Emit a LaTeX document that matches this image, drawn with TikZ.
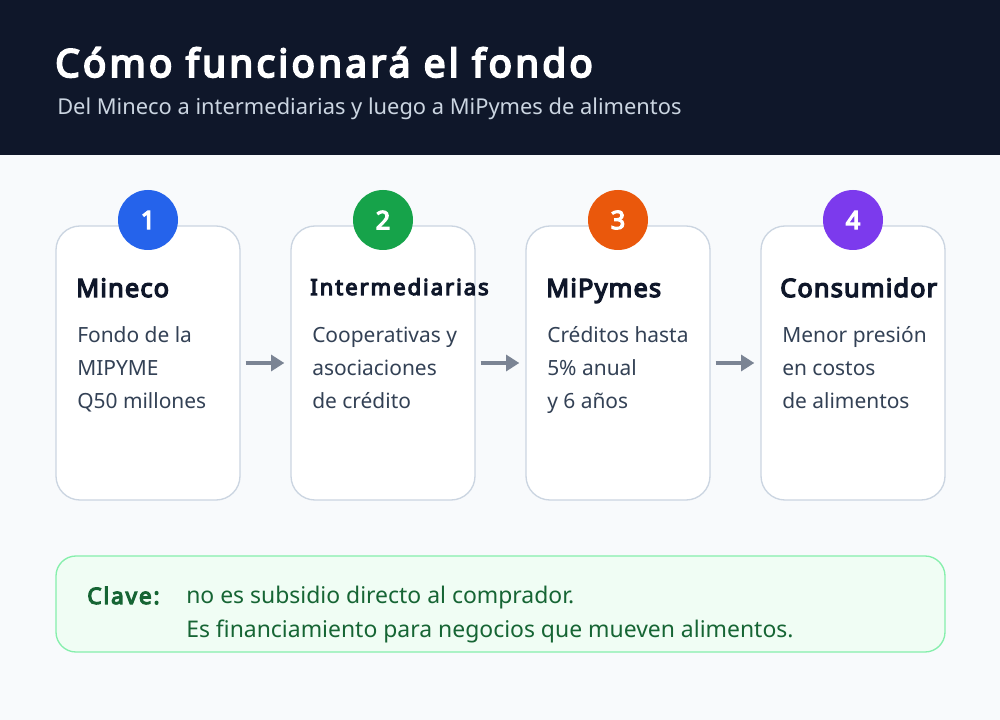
\documentclass[tikz,border=0pt]{standalone}
\usepackage{fontspec}
\setmainfont{Noto Sans}[BoldFont={Noto Sans}, BoldFeatures={FakeBold=5}]
\usetikzlibrary{arrows.meta}
\definecolor{hdr}{HTML}{0F172A}
\definecolor{bg}{HTML}{F8FAFC}
\definecolor{sub}{HTML}{CBD5E1}
\definecolor{cardline}{HTML}{CBD5E1}
\definecolor{ttl}{HTML}{0F172A}
\definecolor{body}{HTML}{334155}
\definecolor{c1}{HTML}{2563EB}
\definecolor{c2}{HTML}{16A34A}
\definecolor{c3}{HTML}{EA580C}
\definecolor{c4}{HTML}{7C3AED}
\definecolor{arr}{HTML}{7B8494}
\definecolor{keyfill}{HTML}{F0FDF4}
\definecolor{keyline}{HTML}{86EFAC}
\definecolor{keytext}{HTML}{166534}
\tikzset{
  card/.style={draw=cardline, line width=1pt, fill=white, rounded corners=18pt,
    minimum width=138pt, minimum height=205.5pt, inner sep=0pt},
  badge/.style={circle, minimum size=45pt, inner sep=0pt, text=white,
    font=\fontsize{19}{22}\bfseries\addfontfeatures{LetterSpace=3}},
  cardtitle/.style={anchor=base west, inner sep=0pt, text=ttl,
    font=\fontsize{19}{22}\bfseries\addfontfeatures{LetterSpace=4.6}},
  bodyline/.style={anchor=base west, inner sep=0pt, text=body,
    font=\fontsize{15.7}{18}\selectfont},
  flow/.style={draw=arr, line width=3pt, -{Triangle[length=10pt,width=12pt]}},
  keytxt/.style={anchor=base west, inner sep=0pt, text=keytext,
    font=\fontsize{17.2}{20}\selectfont},
}
\begin{document}
\begin{tikzpicture}[x=0.75pt,y=-0.75pt]
\useasboundingbox (0,0) rectangle (1000,720);
\fill[bg] (0,0) rectangle (1000,720);
\fill[hdr] (0,0) rectangle (1000,155);
\node[anchor=base west, inner sep=0pt, text=white, font=\fontsize{29}{34}\bfseries\addfontfeatures{LetterSpace=8.4}] (title) at (55,77) {Cómo funcionará el fondo};
\node[anchor=base west, inner sep=0pt, text=sub, font=\fontsize{16.4}{20}\selectfont] (subtitle) at (57,115) {Del Mineco a intermediarias y luego a MiPymes de alimentos};

% cards
\node[card] (card1) at (148,363) {};
\node[card] (card2) at (383,363) {};
\node[card] (card3) at (618,363) {};
\node[card] (card4) at (853,363) {};

\node[badge, fill=c1] (b1) at (148,220) {1};
\node[badge, fill=c2] (b2) at (383,220) {2};
\node[badge, fill=c3] (b3) at (618,220) {3};
\node[badge, fill=c4] (b4) at (853,220) {4};

\node[cardtitle] (t1) at (76,297) {Mineco};
\node[cardtitle, font=\fontsize{16.5}{20}\bfseries\addfontfeatures{LetterSpace=9}] (t2) at (310,295) {Intermediarias};
\node[cardtitle] (t3) at (546,297) {MiPymes};
\node[cardtitle] (t4) at (780,297) {Consumidor};

\node[bodyline] (l11) at (77,343) {Fondo de la};
\node[bodyline] (l12) at (77,375.5) {MIPYME};
\node[bodyline] (l13) at (77,408) {Q50 millones};

\node[bodyline] (l21) at (312,343) {Cooperativas y};
\node[bodyline] (l22) at (312,375.5) {asociaciones};
\node[bodyline] (l23) at (312,408) {de crédito};

\node[bodyline] (l31) at (547,343) {Créditos hasta};
\node[bodyline] (l32) at (547,375.5) {5\% anual};
\node[bodyline] (l33) at (547,408) {y 6 años};

\node[bodyline] (l41) at (782,343) {Menor presión};
\node[bodyline] (l42) at (782,375.5) {en costos};
\node[bodyline] (l43) at (782,408) {de alimentos};

% arrows
\draw[flow] ([xshift=3.75pt]card1.east) -- ([xshift=-4.5pt]card2.west);
\draw[flow] ([xshift=3.75pt]card2.east) -- ([xshift=-4.5pt]card3.west);
\draw[flow] ([xshift=3.75pt]card3.east) -- ([xshift=-4.5pt]card4.west);

% key box
\node[draw=keyline, line width=1pt, fill=keyfill, rounded corners=15pt,
  minimum width=666.75pt, minimum height=72pt, inner sep=0pt] (key) at (500.5,604) {};
\node[keytxt, font=\fontsize{17}{20}\bfseries\addfontfeatures{LetterSpace=8}] (kl) at (87,604) {Clave:};
\node[keytxt] (k1) at (186,603) {no es subsidio directo al comprador.};
\node[keytxt] (k2) at (186,637) {Es financiamiento para negocios que mueven alimentos.};
\end{tikzpicture}
\end{document}
